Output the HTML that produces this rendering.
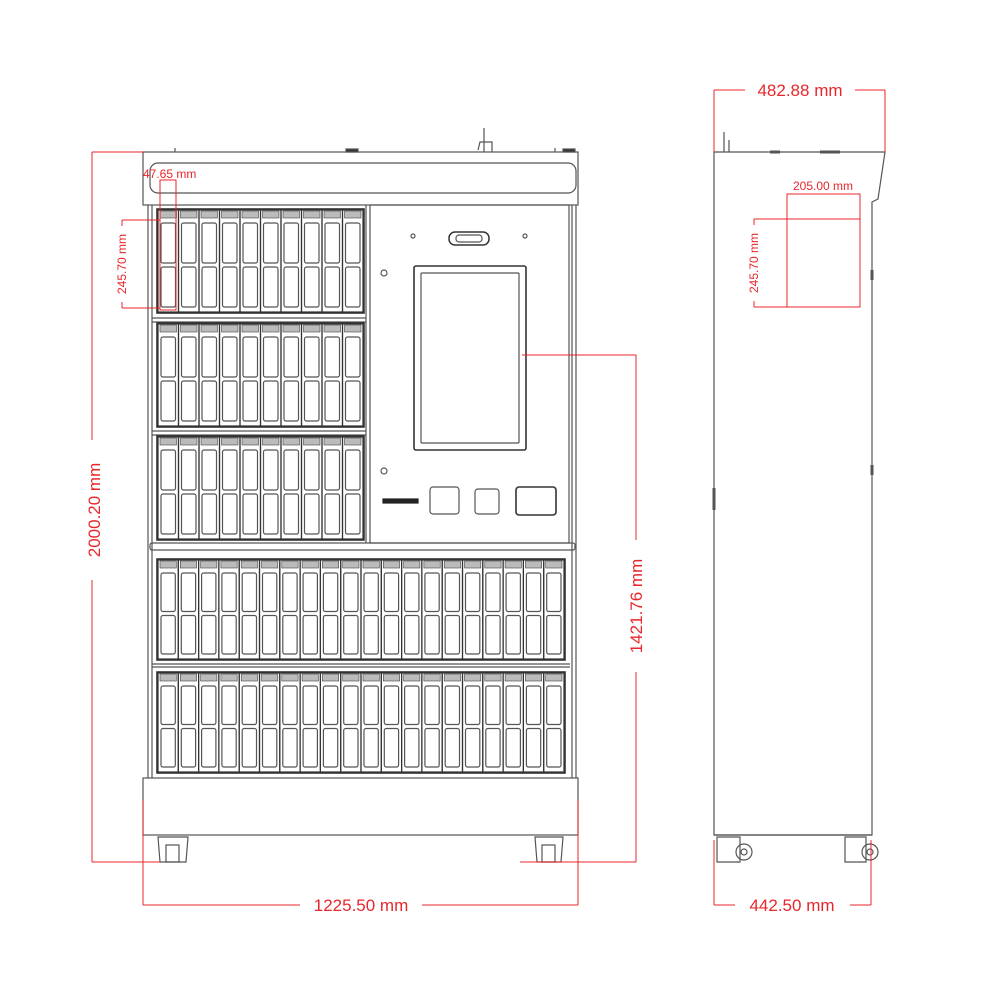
<!DOCTYPE html>
<html><head><meta charset="utf-8"><style>
html,body{margin:0;padding:0;background:#fff;}
svg{display:block}
text{font-family:"Liberation Sans",sans-serif;fill:#e8262b}
</style></head><body>
<svg id="s" width="1000" height="1000" viewBox="0 0 1000 1000" xmlns="http://www.w3.org/2000/svg">
<g fill="none" stroke="#555" stroke-width="1.2">
<rect x="143" y="152" width="435" height="53"/>
<rect x="150" y="163" width="426" height="30" rx="8"/>
<line x1="148" y1="205" x2="148" y2="778"/><line x1="152" y1="205" x2="152" y2="778"/>
<line x1="576" y1="205" x2="576" y2="778"/><line x1="572" y1="205" x2="572" y2="778"/>
<rect x="370" y="205" width="199" height="338"/>
<line x1="366" y1="205" x2="366" y2="543"/>
<rect x="150" y="543" width="425" height="7" rx="2"/>
<line x1="152" y1="318" x2="366" y2="318"/><line x1="152" y1="322" x2="366" y2="322"/>
<line x1="152" y1="431" x2="366" y2="431"/><line x1="152" y1="435" x2="366" y2="435"/>
<line x1="152" y1="664" x2="570" y2="664"/><line x1="152" y1="667" x2="570" y2="667"/>
<rect x="143" y="778" width="435" height="57"/>
<rect x="449" y="232" width="40" height="13" rx="6" stroke="#333" stroke-width="1.5"/>
<rect x="456" y="235" width="26" height="7" rx="3"/>
<rect x="414" y="266" width="112" height="184" rx="2" stroke="#333" stroke-width="1.6"/>
<rect x="421" y="273" width="98" height="170" rx="1"/>
<circle cx="384" cy="273" r="3"/><circle cx="384" cy="471" r="3"/>
<circle cx="413" cy="236" r="2"/><circle cx="525" cy="236" r="2"/>
<rect x="430" y="487" width="29" height="27" rx="3"/>
<rect x="475" y="489" width="24" height="25" rx="3"/>
<rect x="516" y="487" width="40" height="28" rx="3" stroke="#333" stroke-width="1.6"/>
<rect x="383" y="499" width="35" height="4" fill="#222" stroke="#222"/>
<path d="M484 152 L484 142 L480 142 L478 150 M484 128 L484 142 L492 142 L492 152" />
<line x1="175" y1="152" x2="175" y2="148"/><line x1="555" y1="152" x2="555" y2="148"/>
<rect x="346" y="149" width="12" height="3" fill="#333"/>
<rect x="563" y="149" width="12" height="3" fill="#333"/>
<path d="M158 837 L188 837 L186 862 L160 862 Z"/><rect x="166" y="845" width="13" height="17"/>
<path d="M535 837 L563 837 L561 862 L537 862 Z"/><rect x="542" y="845" width="13" height="17"/>
<path d="M714 835 L714 152 L885 152 L878 199 L872 202 L872 835 Z"/>
<line x1="714" y1="835" x2="872" y2="835"/>
<path d="M724 152 L724 132 M729 152 L729 140"/>
<line x1="714" y1="488" x2="714" y2="510" stroke-width="3"/>
<line x1="872" y1="270" x2="872" y2="280" stroke-width="3"/><line x1="872" y1="465" x2="872" y2="475" stroke-width="3"/>
<line x1="770" y1="152" x2="780" y2="152" stroke-width="3"/><line x1="820" y1="152" x2="840" y2="152" stroke-width="3"/>
<path d="M717 837 L740 837 L740 862 L717 862 Z"/><circle cx="744" cy="852" r="8"/><circle cx="744" cy="852" r="3"/>
<path d="M845 837 L866 837 L866 862 L845 862 Z"/><circle cx="870" cy="852" r="8"/><circle cx="870" cy="852" r="3"/>
<g id="dr"></g>
</g>
<g fill="none" stroke="#e8262b" stroke-width="1">
<line x1="92" y1="152" x2="143" y2="152"/><line x1="92" y1="862" x2="160" y2="862"/>
<line x1="92" y1="152" x2="92" y2="440"/><line x1="92" y1="580" x2="92" y2="862"/>
<line x1="143" y1="800" x2="143" y2="905"/><line x1="578" y1="800" x2="578" y2="905"/>
<line x1="143" y1="905" x2="300" y2="905"/><line x1="422" y1="905" x2="578" y2="905"/>
<line x1="522" y1="355" x2="636" y2="355"/><line x1="520" y1="862" x2="636" y2="862"/>
<line x1="636" y1="355" x2="636" y2="540"/><line x1="636" y1="672" x2="636" y2="862"/>
<rect x="160" y="180" width="16" height="130"/>
<line x1="122" y1="220" x2="160" y2="220"/><line x1="122" y1="308" x2="160" y2="308"/>
<line x1="122" y1="220" x2="122" y2="226"/><line x1="122" y1="302" x2="122" y2="308"/>
<line x1="714" y1="90" x2="714" y2="152"/><line x1="885" y1="90" x2="885" y2="152"/>
<line x1="714" y1="90" x2="745" y2="90"/><line x1="855" y1="90" x2="885" y2="90"/>
<line x1="714" y1="840" x2="714" y2="905"/><line x1="871" y1="840" x2="871" y2="905"/>
<line x1="714" y1="905" x2="735" y2="905"/><line x1="850" y1="905" x2="871" y2="905"/>
<rect x="787" y="194" width="73" height="113"/>
<line x1="754" y1="219" x2="860" y2="219"/><line x1="754" y1="307" x2="787" y2="307"/>
<line x1="754" y1="219" x2="754" y2="225"/><line x1="754" y1="301" x2="754" y2="307"/>
</g>
<text x="94" y="510" font-size="17" text-anchor="middle" transform="rotate(-90 94 510)" dy="6">2000.20 mm</text>
<text x="361" y="911" font-size="17" text-anchor="middle">1225.50 mm</text>
<text x="636" y="606" font-size="17" text-anchor="middle" transform="rotate(-90 636 606)" dy="6">1421.76 mm</text>
<text x="143" y="178" font-size="12">47.65 mm</text>
<text x="122" y="264" font-size="12" text-anchor="middle" transform="rotate(-90 122 264)" dy="4">245.70 mm</text>
<text x="800" y="96" font-size="17" text-anchor="middle">482.88 mm</text>
<text x="792" y="911" font-size="17" text-anchor="middle">442.50 mm</text>
<text x="823" y="190" font-size="12" text-anchor="middle">205.00 mm</text>
<text x="754" y="263" font-size="12" text-anchor="middle" transform="rotate(-90 754 263)" dy="4">245.70 mm</text>
</svg>
<script>
var g=document.getElementById('dr'),ns='http://www.w3.org/2000/svg';
function r(x,y,w,h,rx,a){var e=document.createElementNS(ns,'rect');e.setAttribute('x',x);e.setAttribute('y',y);e.setAttribute('width',w);e.setAttribute('height',h);if(rx)e.setAttribute('rx',rx);if(a)for(var k in a)e.setAttribute(k,a[k]);g.appendChild(e);}
function row(x0,n,w,y,h){r(x0-1,y-1,n*w+2,h+2,0,{'stroke':'#333','stroke-width':'1.6'});
for(var i=0;i<n;i++){var x=x0+i*w;r(x,y,w,h,0,{'stroke':'#333'});r(x+2,y+1,w-4,7,0,{'fill':'#bbb','stroke':'#444','stroke-width':'0.6'});
var wh=(h-22)/2;r(x+3,y+13,w-6,wh,2);r(x+3,y+17+wh,w-6,wh,2);}}
row(158,10,20.5,210,102);row(158,10,20.5,324,102);row(158,10,20.5,437,102);
row(158,20,20.3,560,99);row(158,20,20.3,673,99);
</script>
</body></html>
